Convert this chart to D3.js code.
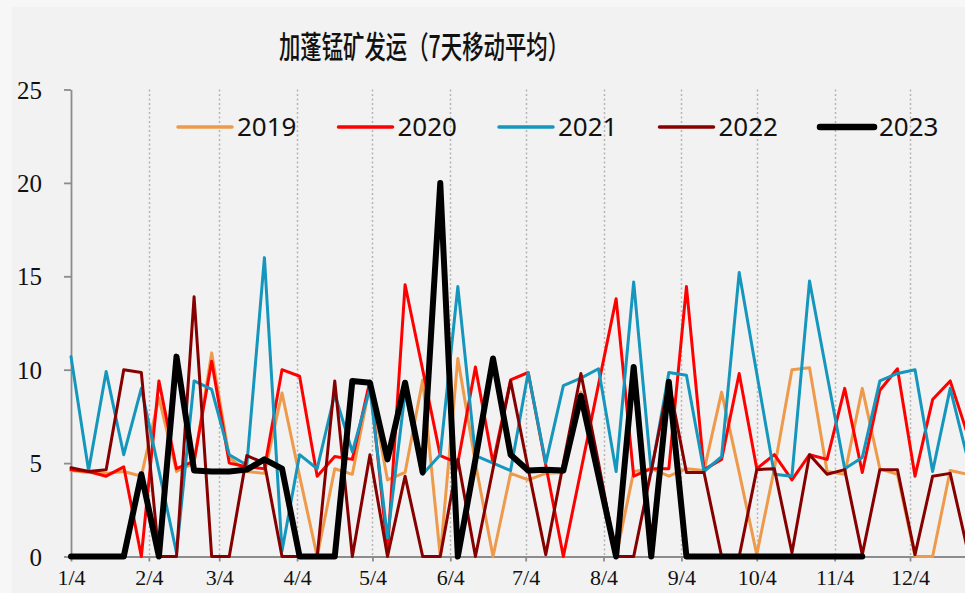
<!DOCTYPE html>
<html>
<head>
<meta charset="utf-8">
<script src="https://cdn.jsdelivr.net/npm/d3@7"></script>
<style>
  body { margin: 0; background: #f7f7f7; }
  svg { display: block; }
</style>
</head>
<body>
<svg id="chart"></svg>
<script>
// weekly 7-day moving average, week 0 = Jan 4
const title = '加蓬锰矿发运（7天移动平均）';
const seriesNames = ['2019', '2020', '2021', '2022', '2023'];
const seriesColors = ['#ee9a4a', '#ff0000', '#1596bd', '#870000', '#000000'];
const seriesWidths = [3, 3, 3, 3, 6];

const v2019 = [4.6, 4.5, 4.45, 4.55, 4.3, 8.5, 4.55, 5.0, 10.9, 5.3, 4.55, 4.45, 8.75, 4.3, 0, 4.7,
  4.4, 9.2, 4.1, 4.5, 9.45, 0, 10.6, 5.0, 0, 4.45, 4.1, 4.45, 4.5, 8.8, 4.4, 0, 4.55, 4.7, 4.3, 4.7,
  4.6, 8.8, 4.5, 0.1, 4.7, 10.0, 10.1, 4.55, 4.4, 9.0, 4.7, 4.4, 0, 0, 4.6, 4.4];
const v2020 = [4.65, 4.55, 4.3, 4.8, 0, 9.4, 4.7, 5.1, 10.45, 5.0, 4.8, 4.7, 10.0, 9.65, 4.3, 5.35,
  5.2, 9.4, 0.3, 14.55, 10.0, 5.4, 5.0, 10.15, 5.0, 9.45, 9.85, 4.9, 0, 4.6, 9.2, 13.8, 4.3, 4.7, 4.7,
  14.45, 4.65, 5.2, 9.8, 4.7, 5.45, 4.1, 5.45, 5.2, 9.0, 4.5, 8.9, 10.05, 4.3, 8.4, 9.4, 6.5];
const v2021 = [10.7, 4.6, 9.9, 5.45, 9.0, 4.6, 0.2, 9.4, 8.95, 5.45, 4.9, 16.0, 0.3, 5.45, 4.7, 8.7,
  5.6, 9.0, 1.0, 8.8, 4.4, 5.45, 14.45, 5.4, 5.0, 4.6, 9.85, 5.0, 9.15, 9.55, 10.05, 4.55, 14.7, 4.5,
  9.85, 9.7, 4.55, 5.35, 15.2, 9.8, 4.4, 4.3, 14.75, 9.7, 4.7, 5.3, 9.4, 9.8, 10.0, 4.55, 9.0, 5.2];
const v2022 = [4.75, 4.55, 4.65, 10.0, 9.85, 0, 0, 13.9, 0, 0, 5.4, 5.0, 0, 0, 0, 9.4, 0, 5.45, 0,
  4.3, 0, 0, 5.2, 0, 4.7, 9.4, 4.7, 0.1, 5.0, 9.8, 5.0, 0, 0, 4.6, 9.35, 4.5, 4.5, 0, 0, 4.65, 4.7,
  0.2, 5.45, 4.4, 4.65, 0.1, 4.65, 4.65, 0.1, 4.3, 4.45, 0.3];
const v2023 = [0, 0, 0, 0, 4.4, 0, 10.7, 4.6, 4.55, 4.55, 4.65, 5.2, 4.7, 0, 0, 0, 9.4, 9.3, 5.2,
  9.3, 4.5, 20.0, 0, 5.2, 10.6, 5.45, 4.6, 4.65, 4.6, 8.6, 4.3, 0, 10.15, 0, 9.35, 0, 0, 0, 0, 0, 0,
  0, 0, 0, 0, 0];
const seriesValues = [v2019, v2020, v2021, v2022, v2023];

const yTicks = [0, 5, 10, 15, 20, 25];
const xTickLabels = ['1/4', '2/4', '3/4', '4/4', '5/4', '6/4', '7/4', '8/4', '9/4', '10/4', '11/4', '12/4'];

const width = 965;
const height = 593;
const startDate = new Date(2023, 0, 4);

createChart();

function createChart() {
  const svg = d3.select('#chart').attr('width', width).attr('height', height);
  drawBackground(svg);
  const xLine = d3.scaleTime()
    .domain([startDate, new Date(2023, 11, 31)])
    .range([71, 71 + 361 * 2.512]);
  const yLine = d3.scaleLinear().domain([0, 25]).range([556.5, 89.5]);
  const tickDates = xTickLabels.map((d, i) => new Date(2023, i, 4));

  drawXGrid(svg, xLine, yLine, tickDates);
  drawYAxis(svg, yLine);
  drawXAxis(svg, xLine, tickDates);
  drawLines(svg, xLine, yLine);
  drawLegend(svg);
  drawTitle(svg);
}

function drawBackground(svg) {
  svg.append('rect').attr('width', width).attr('height', height).attr('fill', '#f7f7f7');
  svg.append('rect').attr('x', 12).attr('y', 7)
    .attr('width', width - 12).attr('height', height - 7).attr('fill', '#f2f2f2');
}

function drawXGrid(svg, xLine, yLine, tickDates) {
  svg.append('g')
    .selectAll('line')
    .data(tickDates.slice(1))
    .enter()
    .append('line')
    .attr('x1', d => Math.round(xLine(d)) + 0.5)
    .attr('x2', d => Math.round(xLine(d)) + 0.5)
    .attr('y1', yLine(25))
    .attr('y2', yLine(0))
    .attr('stroke', '#b4b4b4')
    .attr('stroke-width', 1.5)
    .attr('stroke-dasharray', '2,2.5');
}

function drawYAxis(svg, yLine) {
  const g = svg.append('g')
    .attr('transform', 'translate(71,0)')
    .call(d3.axisLeft(yLine).tickValues(yTicks).tickSize(7).tickSizeOuter(0).tickPadding(22));
  g.select('.domain').attr('stroke', '#8c8c8c').attr('stroke-width', 1.8);
  g.selectAll('.tick line').attr('stroke', '#8c8c8c').attr('stroke-width', 1.8);
  g.selectAll('.tick text')
    .attr('font-family', '"Liberation Serif", serif')
    .attr('font-size', 25)
    .attr('fill', '#111')
    .attr('dy', '0.34em');
}

function drawXAxis(svg, xLine, tickDates) {
  const g = svg.append('g')
    .attr('transform', 'translate(0,556.5)')
    .call(d3.axisBottom(xLine).tickValues(tickDates).tickSize(5).tickSizeOuter(0)
      .tickPadding(8).tickFormat((d, i) => xTickLabels[i]));
  g.select('.domain').attr('stroke', '#8c8c8c').attr('stroke-width', 1.8);
  g.selectAll('.tick line').attr('stroke', '#8c8c8c').attr('stroke-width', 1.8);
  g.selectAll('.tick text')
    .attr('font-family', '"Liberation Serif", serif')
    .attr('font-size', 22)
    .attr('fill', '#111');
}

function drawLines(svg, xLine, yLine) {
  const line = d3.line()
    .x((d, i) => xLine(d3.timeDay.offset(startDate, 7 * i)))
    .y(d => yLine(d));
  svg.append('g')
    .selectAll('path')
    .data(seriesValues)
    .enter()
    .append('path')
    .attr('fill', 'none')
    .attr('stroke', (d, i) => seriesColors[i])
    .attr('stroke-width', (d, i) => seriesWidths[i])
    .attr('stroke-linejoin', 'round')
    .attr('stroke-linecap', 'round')
    .attr('d', d => line(d));
}

function drawLegend(svg) {
  const items = svg.append('g')
    .selectAll('g')
    .data(seriesNames)
    .enter()
    .append('g')
    .attr('transform', (d, i) => `translate(${178 + 160.5 * i},127)`);
  items.append('line')
    .attr('x1', 0).attr('x2', 54)
    .attr('stroke', (d, i) => seriesColors[i])
    .attr('stroke-width', (d, i) => seriesWidths[i] + 0.5)
    .attr('stroke-linecap', 'round');
  items.append('text')
    .attr('x', 59)
    .attr('y', 9)
    .attr('font-family', '"Noto Sans", sans-serif')
    .attr('font-size', 26)
    .attr('fill', '#111')
    .text(d => d);
}

function drawTitle(svg) {
  svg.append('g')
    .attr('transform', 'translate(424,58) scale(0.69,1)')
    .append('text')
    .attr('text-anchor', 'middle')
    .attr('font-family', '"Noto Sans CJK SC", sans-serif')
    .attr('font-size', 31)
    .attr('font-weight', 500)
    .attr('fill', '#111')
    .text(title);
}
</script>
</body>
</html>
